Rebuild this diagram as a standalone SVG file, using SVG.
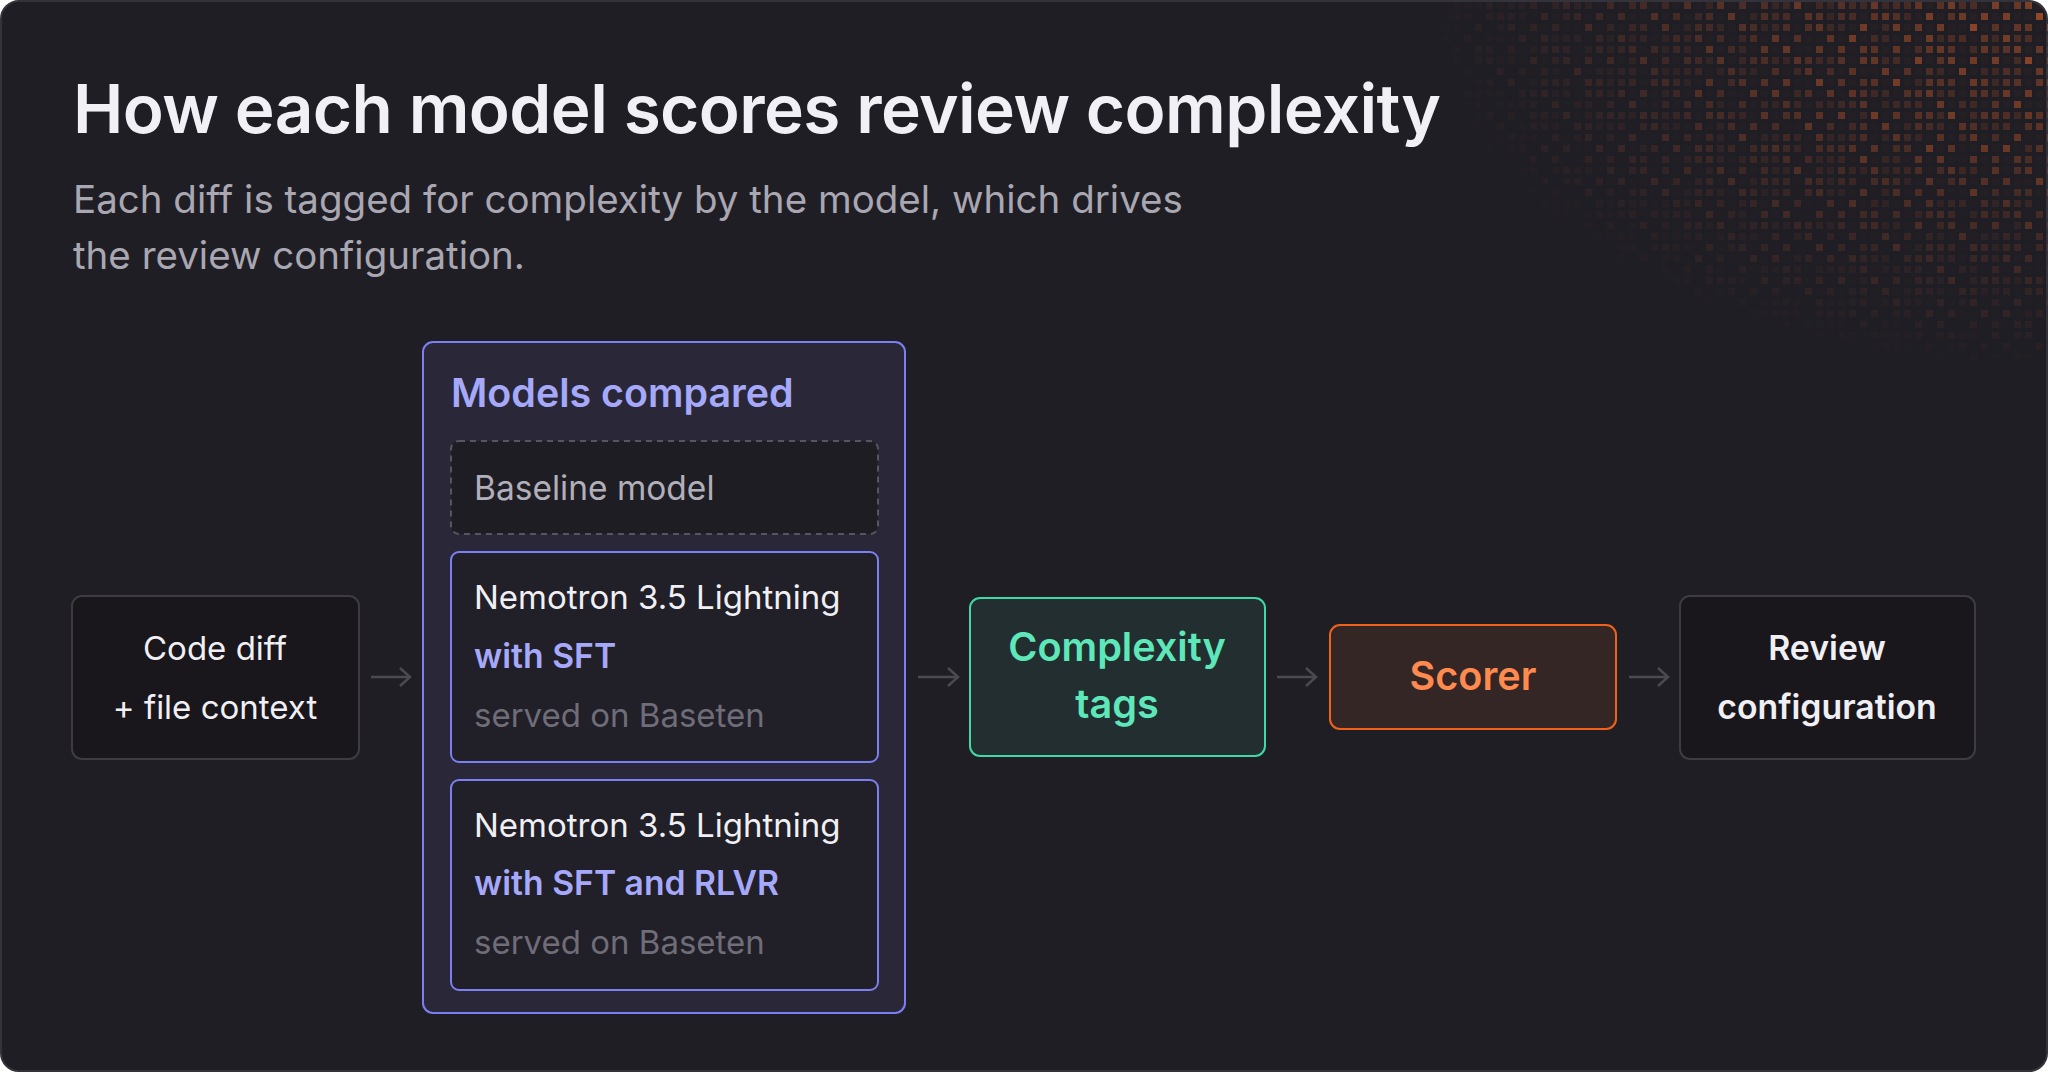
<svg xmlns="http://www.w3.org/2000/svg" width="2048" height="1072" viewBox="0 0 2048 1072">
<defs>
<style>
.t{font-family:Inter,"Noto Sans","Liberation Sans",sans-serif}
.title{font-size:67.5px;font-weight:600;fill:#f1f0f4;letter-spacing:-0.6px}
.sub{font-size:38.5px;font-weight:400;fill:#a9a7b1}
.lbl{font-size:33px;font-weight:400;fill:#f0eff3}
.lblb{font-size:33.8px;font-weight:600;fill:#f0eff3}
.hd{font-size:39.4px;font-weight:600;fill:#a6a9fa}
.acc{font-size:33.7px;font-weight:600;fill:#a6a9fa}
.muted{font-size:33px;font-weight:400;fill:#6f6d78}
.base{font-size:33.5px;font-weight:400;fill:#b1afb9}
.green{font-size:39.6px;font-weight:600;fill:#5ee8b9}
.orange{font-size:39.6px;font-weight:600;fill:#ff8a4f}
.conn{stroke:#4b4952;stroke-width:2.5;fill:none;marker-end:url(#head)}
.plain{fill:#19171c;stroke:#3d3c43;stroke-width:2}
.model{fill:#211f28;stroke:#7c7ff2;stroke-width:2}
</style>
<marker id="head" markerWidth="16" markerHeight="22" refX="12" refY="11" orient="auto" markerUnits="userSpaceOnUse">
<path d="M2,2 L12,11 L2,20" fill="none" stroke="#4b4952" stroke-width="2.5"/>
</marker>
<pattern id="pA" width="77" height="55" patternUnits="userSpaceOnUse" x="1453" y="2">
<g fill="#e0622a">
<rect x="0" y="0" width="7" height="7" opacity=".5"/><rect x="22" y="0" width="7" height="7" opacity=".25"/><rect x="33" y="0" width="7" height="7" opacity=".6"/><rect x="55" y="0" width="7" height="7" opacity=".3"/>
<rect x="11" y="11" width="7" height="7" opacity=".35"/><rect x="44" y="11" width="7" height="7" opacity=".55"/><rect x="66" y="11" width="7" height="7" opacity=".2"/>
<rect x="0" y="22" width="7" height="7" opacity=".2"/><rect x="22" y="22" width="7" height="7" opacity=".45"/><rect x="55" y="22" width="7" height="7" opacity=".6"/>
<rect x="11" y="33" width="7" height="7" opacity=".6"/><rect x="33" y="33" width="7" height="7" opacity=".3"/><rect x="66" y="33" width="7" height="7" opacity=".45"/>
<rect x="0" y="44" width="7" height="7" opacity=".3"/><rect x="22" y="44" width="7" height="7" opacity=".55"/><rect x="55" y="44" width="7" height="7" opacity=".25"/>
</g>
</pattern>
<pattern id="pB" width="55" height="33" patternUnits="userSpaceOnUse" x="1453" y="2">
<g fill="#e0622a">
<rect x="11" y="0" width="7" height="7" opacity=".3"/><rect x="44" y="0" width="7" height="7" opacity=".2"/>
<rect x="0" y="11" width="7" height="7" opacity=".4"/><rect x="33" y="11" width="7" height="7" opacity=".5"/>
<rect x="22" y="22" width="7" height="7" opacity=".45"/><rect x="44" y="22" width="7" height="7" opacity=".25"/>
</g>
</pattern>
<pattern id="pC" width="11" height="11" patternUnits="userSpaceOnUse" x="1453" y="2">
<rect x="0" y="0" width="7" height="7" fill="#e0622a" opacity=".05"/>
</pattern>
<radialGradient id="fade" cx=".5" cy=".5" r=".5">
<stop offset="0" stop-color="#fff" stop-opacity="1"/>
<stop offset=".45" stop-color="#fff" stop-opacity=".6"/>
<stop offset="1" stop-color="#fff" stop-opacity="0"/>
</radialGradient>
<mask id="fm" maskUnits="userSpaceOnUse" x="0" y="0" width="2048" height="1072">
<rect x="1428" y="-370" width="1240" height="740" fill="url(#fade)"/>
</mask>
<clipPath id="card"><rect x="0" y="0" width="2048" height="1072" rx="18"/></clipPath>
</defs>

<rect x="0" y="0" width="2048" height="1072" fill="#ffffff"/>
<rect x="1" y="1" width="2046" height="1070" rx="18" fill="#201e25" stroke="#34323a" stroke-width="2"/>
<g clip-path="url(#card)" mask="url(#fm)" opacity=".8">
<rect x="1400" y="0" width="648" height="420" fill="url(#pC)"/>
<rect x="1400" y="0" width="648" height="420" fill="url(#pA)"/>
<rect x="1400" y="0" width="648" height="420" fill="url(#pB)"/>
</g>

<g id="header">
<text class="t title" x="73" y="133">How each model scores review complexity</text>
<text class="t sub" x="73" y="213">Each diff is tagged for complexity by the model, which drives</text>
<text class="t sub" x="73" y="269">the review configuration.</text>
</g>

<g id="connectors">
<line class="conn" x1="371" y1="677" x2="410" y2="677"/>
<line class="conn" x1="918" y1="677" x2="958" y2="677"/>
<line class="conn" x1="1277" y1="677" x2="1316" y2="677"/>
<line class="conn" x1="1629" y1="677" x2="1668" y2="677"/>
</g>

<g id="code-diff">
<rect class="plain" x="72" y="596" width="287" height="163" rx="10"/>
<text class="t lbl" x="215" y="660" text-anchor="middle">Code diff</text>
<text class="t lbl" x="215" y="719" text-anchor="middle">+ file context</text>
</g>

<g id="models-compared">
<rect x="423" y="342" width="482" height="671" rx="10" fill="#2a2838" stroke="#7c7ff2" stroke-width="2"/>
<text class="t hd" x="451" y="407">Models compared</text>
</g>

<g id="baseline-model">
<rect x="451" y="441" width="427" height="93" rx="8" fill="#1f1d24" stroke="#57555e" stroke-width="2" stroke-dasharray="6 5"/>
<text class="t base" x="474" y="500">Baseline model</text>
</g>

<g id="nemotron-sft">
<rect class="model" x="451" y="552" width="427" height="210" rx="8"/>
<text class="t lbl" x="474" y="609">Nemotron 3.5 Lightning</text>
<text class="t acc" x="474" y="668">with SFT</text>
<text class="t muted" x="474" y="727">served on Baseten</text>
</g>

<g id="nemotron-sft-rlvr">
<rect class="model" x="451" y="780" width="427" height="210" rx="8"/>
<text class="t lbl" x="474" y="837">Nemotron 3.5 Lightning</text>
<text class="t acc" x="474" y="895">with SFT and RLVR</text>
<text class="t muted" x="474" y="954">served on Baseten</text>
</g>

<g id="complexity-tags">
<rect x="970" y="598" width="295" height="158" rx="10" fill="#222e30" stroke="#3ed9a4" stroke-width="2"/>
<text class="t green" x="1117" y="661" text-anchor="middle">Complexity</text>
<text class="t green" x="1117" y="718" text-anchor="middle">tags</text>
</g>

<g id="scorer">
<rect x="1330" y="625" width="286" height="104" rx="10" fill="#352626" stroke="#f0621a" stroke-width="2"/>
<text class="t orange" x="1473" y="690" text-anchor="middle">Scorer</text>
</g>

<g id="review-configuration">
<rect class="plain" x="1680" y="596" width="295" height="163" rx="10"/>
<text class="t lblb" x="1827" y="660" text-anchor="middle">Review</text>
<text class="t lblb" x="1827" y="719" text-anchor="middle">configuration</text>
</g>
</svg>
